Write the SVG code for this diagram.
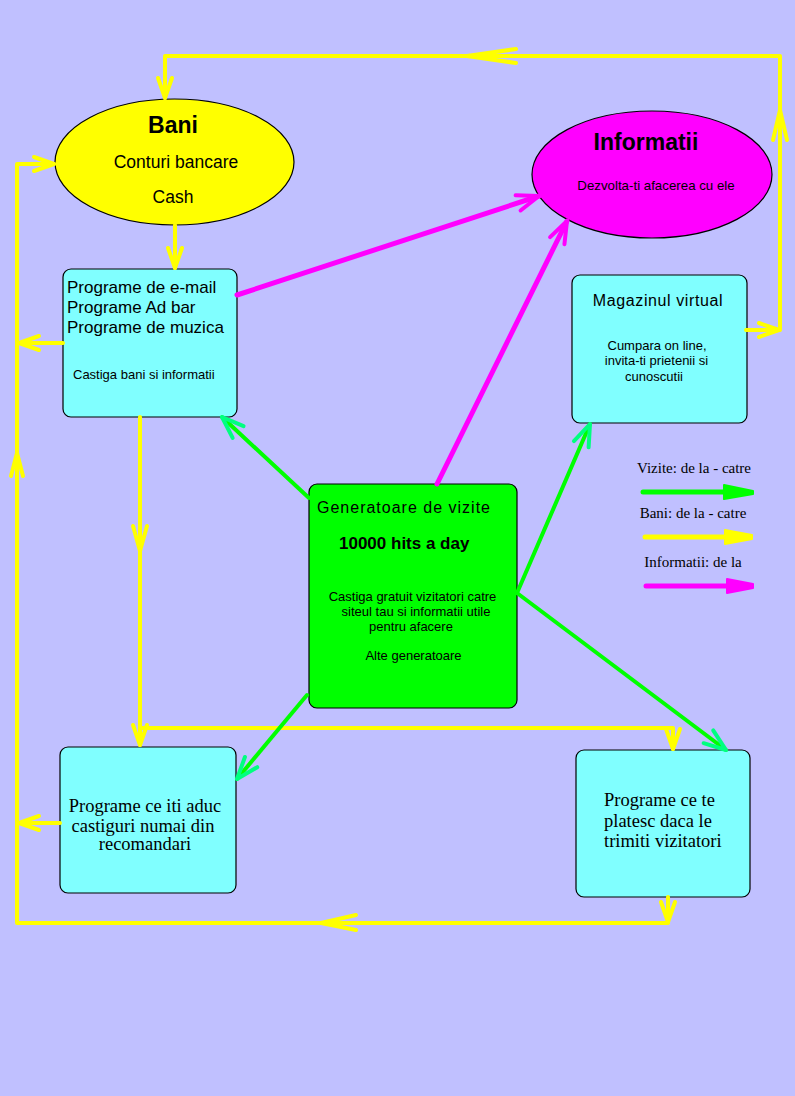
<svg xmlns="http://www.w3.org/2000/svg" width="795" height="1096" viewBox="0 0 795 1096">
<style>
.sans{font-family:"Liberation Sans",Arial,sans-serif;fill:#000}
.serif{font-family:"Liberation Serif","Times New Roman",serif;fill:#000}
.box{fill:#80FFFF;stroke:#000;stroke-width:1.2}
.y{fill:none;stroke:#FFFF00;stroke-width:4;stroke-linecap:round;stroke-linejoin:round}
.g{fill:none;stroke:#00FF00;stroke-width:4;stroke-linecap:round}
.m{fill:none;stroke:#FF00FF;stroke-width:5;stroke-linecap:round}
.yh{fill:none;stroke:#FFFF00;stroke-width:4;stroke-linecap:round;stroke-linejoin:round}
</style>
<defs>
<marker id="ay" viewBox="-26 -12 30 24" refX="0" refY="0" markerWidth="30" markerHeight="24" markerUnits="userSpaceOnUse" orient="auto"><path d="M-20,-7 L0,0 L-20,7" fill="none" stroke="#FFFF00" stroke-width="4" stroke-linecap="round" stroke-linejoin="round"/></marker>
<marker id="ag" viewBox="-26 -12 30 24" refX="0" refY="0" markerWidth="30" markerHeight="24" markerUnits="userSpaceOnUse" orient="auto"><path d="M-22,-8 L0,0 L-22,8" fill="none" stroke="#00FF80" stroke-width="4" stroke-linecap="round" stroke-linejoin="round"/></marker>
<marker id="am" viewBox="-26 -12 30 24" refX="0" refY="0" markerWidth="30" markerHeight="24" markerUnits="userSpaceOnUse" orient="auto"><path d="M-22,-8 L0,0 L-22,8" fill="none" stroke="#FF00FF" stroke-width="4" stroke-linecap="round" stroke-linejoin="round"/></marker>
</defs>
<rect x="0" y="0" width="795" height="1096" fill="#C0C0FF"/>

<g id="bani">
<ellipse cx="174.5" cy="162" rx="119.5" ry="63" fill="#FFFF00" stroke="#000" stroke-width="1.2"/>
<text class="sans" x="173" y="133" font-size="23" font-weight="bold" text-anchor="middle">Bani</text>
<text class="sans" x="176" y="168" font-size="17.5" text-anchor="middle">Conturi bancare</text>
<text class="sans" x="173" y="203" font-size="17.5" text-anchor="middle">Cash</text>
</g>

<g id="informatii">
<ellipse cx="652" cy="174.5" rx="120" ry="63.5" fill="#FF00FF" stroke="#000" stroke-width="1.2"/>
<text class="sans" x="646" y="150" font-size="23" font-weight="bold" text-anchor="middle">Informatii</text>
<text class="sans" x="656" y="190" font-size="13.3" text-anchor="middle">Dezvolta-ti afacerea cu ele</text>
</g>

<g id="programe-email">
<rect class="box" x="63" y="269" width="174" height="148" rx="8"/>
<text class="sans" x="67" y="293" font-size="17">Programe de e-mail</text>
<text class="sans" x="67" y="313" font-size="17">Programe Ad bar</text>
<text class="sans" x="67" y="333" font-size="17">Programe de muzica</text>
<text class="sans" x="73" y="379" font-size="13">Castiga bani si informatii</text>
</g>

<g id="magazinul">
<rect class="box" x="572" y="275" width="175" height="148" rx="8"/>
<text class="sans" x="658" y="306" font-size="16" letter-spacing="0.6" text-anchor="middle">Magazinul virtual</text>
<text class="sans" x="657" y="350" font-size="13" text-anchor="middle">Cumpara on line,</text>
<text class="sans" x="656.5" y="365" font-size="13" text-anchor="middle">invita-ti prietenii si</text>
<text class="sans" x="654" y="381" font-size="13" text-anchor="middle">cunoscutii</text>
</g>

<g id="generatoare">
<rect x="309" y="484" width="208" height="224" rx="8" fill="#00FF00" stroke="#000" stroke-width="1.2"/>
<text class="sans" x="317" y="513" font-size="16" letter-spacing="1">Generatoare de vizite</text>
<text class="sans" x="339" y="549" font-size="17" font-weight="bold">10000 hits a day</text>
<text class="sans" x="412.5" y="601" font-size="13" text-anchor="middle">Castiga gratuit vizitatori catre</text>
<text class="sans" x="416" y="616" font-size="13" text-anchor="middle">siteul tau si informatii utile</text>
<text class="sans" x="411" y="631" font-size="13" text-anchor="middle">pentru afacere</text>
<text class="sans" x="413.5" y="660" font-size="13" text-anchor="middle">Alte generatoare</text>
</g>

<g id="recomandari">
<rect class="box" x="60" y="747" width="176" height="146" rx="8"/>
<text class="serif" x="145" y="812" font-size="18.5" text-anchor="middle">Programe ce iti aduc</text>
<text class="serif" x="143" y="832" font-size="18.5" text-anchor="middle">castiguri numai din</text>
<text class="serif" x="145" y="850" font-size="18.5" text-anchor="middle">recomandari</text>
</g>

<g id="platesc">
<rect class="box" x="576" y="750" width="174" height="147" rx="8"/>
<text class="serif" x="604" y="806" font-size="18.5">Programe ce te</text>
<text class="serif" x="604" y="827" font-size="18.5">platesc daca le</text>
<text class="serif" x="604" y="847" font-size="18.5">trimiti vizitatori</text>
</g>

<g id="connectors">
<!-- yellow: money -->
<path class="y" d="M746,330 H779" marker-end="url(#ay)"/>
<path class="y" d="M780,330 V56 H165 V98" marker-end="url(#ay)"/>
<path class="yh" d="M773,140 L780,110 L787,140"/>
<path class="yh" d="M516,49 L467,56 L516,63"/>
<path class="y" d="M175,225 V268" marker-end="url(#ay)"/>
<path class="y" d="M63,343 H19" marker-end="url(#ay)"/>
<path class="y" d="M60,823 H19" marker-end="url(#ay)"/>
<path class="y" d="M668,897 V922" marker-end="url(#ay)"/>
<path class="y" d="M668,923 H17 V164 H54" marker-end="url(#ay)"/>
<path class="yh" d="M356,915 L321,923 L356,930"/>
<path class="yh" d="M11,476 L17,453 L23,476"/>
<path class="y" d="M140,417 V745" marker-end="url(#ay)"/>
<path class="yh" d="M133,526 L140,551 L147,526"/>
<path class="y" d="M140,728 H673 V749" marker-end="url(#ay)"/>
<!-- green: visits -->
<path class="g" d="M309,498 L222,417" marker-end="url(#ag)"/>
<path class="g" d="M517,593 L590,424" marker-end="url(#ag)"/>
<path class="g" d="M517,593 L726,750" marker-end="url(#ag)"/>
<path class="g" d="M307,695 L237,779" marker-end="url(#ag)"/>
<!-- magenta: information -->
<path class="m" d="M237,295 L539,196" marker-end="url(#am)"/>
<path class="m" d="M437,484 L567,221" marker-end="url(#am)"/>
</g>

<g id="legend">
<text class="serif" x="694" y="473" font-size="15" text-anchor="middle">Vizite: de la - catre</text>
<line x1="643" y1="492" x2="730" y2="492" stroke="#00FF00" stroke-width="5" stroke-linecap="round"/>
<path d="M724,485 L753,491 L753,494 L724,499 Z" fill="#00FF00" stroke="#00FF00" stroke-width="2" stroke-linejoin="round"/>
<text class="serif" x="693" y="518" font-size="15" text-anchor="middle">Bani: de la - catre</text>
<line x1="645" y1="537" x2="730" y2="537" stroke="#FFFF00" stroke-width="5" stroke-linecap="round"/>
<path d="M725,530 L752,535 L752,539 L725,544 Z" fill="#FFFF00" stroke="#FFFF00" stroke-width="2" stroke-linejoin="round"/>
<text class="serif" x="693" y="567" font-size="15" text-anchor="middle">Informatii: de la</text>
<line x1="646" y1="586" x2="730" y2="586" stroke="#FF00FF" stroke-width="5" stroke-linecap="round"/>
<path d="M727,579 L753,584 L753,588 L727,593 Z" fill="#FF00FF" stroke="#FF00FF" stroke-width="2" stroke-linejoin="round"/>
</g>
</svg>
